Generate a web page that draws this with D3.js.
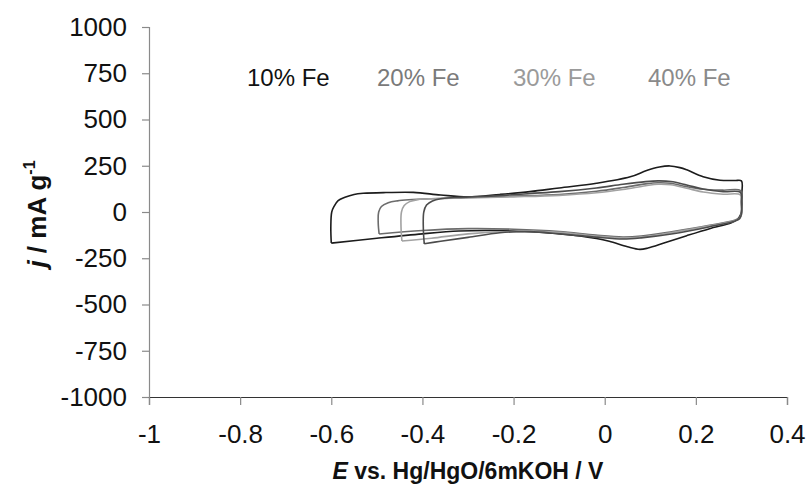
<!DOCTYPE html>
<html>
<head>
<meta charset="utf-8">
<script src="https://cdn.jsdelivr.net/npm/d3@7"></script>
<style>
  body { margin: 0; background: #fff; }
  text { font-family: "Liberation Sans", Arial, sans-serif; }
</style>
</head>
<body>
<svg id="cv"></svg>
<script>
var margin = {top: 27, right: 21, bottom: 99, left: 149}
  , width = 808 - margin.left - margin.right
  , height = 496 - margin.top - margin.bottom;

// tick values
var xTicks = [-1, -0.8, -0.6, -0.4, -0.2, 0, 0.2, 0.4];
var yTicks = [-1000, -750, -500, -250, 0, 250, 500, 750, 1000];

// series names and colours
var seriesNames = ["10% Fe", "20% Fe", "30% Fe", "40% Fe"];
var lineColors = ["#1c1c1c", "#6c6c6c", "#a2a2a2", "#4c4c4c"];
var labelColors = ["#111111", "#7a7a7a", "#9a9a9a", "#8a8a8a"];

// cyclic voltammograms, [E / V, j / mA g-1], traced round the loop
var fe10 = [[-0.600,-168],[-0.601,-80],[-0.599,0],[-0.594,30],[-0.585,62],[-0.570,80],[-0.550,95],[-0.530,101],
  [-0.480,105],[-0.420,106],[-0.360,92],[-0.300,82],[-0.230,95],[-0.164,110],[-0.100,130],[-0.018,155],
  [0.056,190],[0.092,224],[0.120,243],[0.143,249],[0.165,240],[0.180,228],[0.216,191],[0.253,172],
  [0.285,170],[0.300,168],[0.301,100],[0.301,20],[0.299,-10],[0.292,-38],[0.278,-58],[0.230,-90],
  [0.180,-128],[0.130,-168],[0.095,-195],[0.077,-202],[0.050,-188],[0.010,-158],[-0.018,-143],
  [-0.090,-120],[-0.164,-107],[-0.250,-100],[-0.320,-103],[-0.400,-118],[-0.500,-142],[-0.600,-168]];

var fe20 = [[-0.495,-119],[-0.497,-60],[-0.496,0],[-0.490,30],[-0.475,50],[-0.455,60],[-0.430,66],
  [-0.380,72],[-0.300,78],[-0.200,86],[-0.100,95],[-0.018,112],[0.040,132],[0.090,152],[0.117,158],
  [0.145,155],[0.180,137],[0.216,123],[0.260,118],[0.298,116],[0.300,60],[0.300,-5],[0.296,-30],
  [0.285,-45],[0.230,-72],[0.150,-105],[0.080,-130],[0.040,-135],[-0.020,-125],[-0.100,-105],
  [-0.200,-93],[-0.300,-90],[-0.400,-100],[-0.495,-119]];

var fe30 = [[-0.445,-157],[-0.447,-80],[-0.446,0],[-0.440,35],[-0.428,56],[-0.410,67],[-0.380,72],
  [-0.300,76],[-0.200,82],[-0.100,90],[-0.018,104],[0.040,122],[0.090,142],[0.117,150],[0.145,147],
  [0.180,128],[0.216,108],[0.260,96],[0.298,92],[0.300,40],[0.300,-15],[0.296,-35],[0.285,-48],
  [0.230,-75],[0.150,-110],[0.080,-136],[0.040,-141],[-0.020,-130],[-0.100,-110],[-0.200,-105],
  [-0.300,-118],[-0.380,-142],[-0.445,-157]];

var fe40 = [[-0.396,-172],[-0.398,-90],[-0.397,0],[-0.391,38],[-0.378,60],[-0.360,72],[-0.330,78],
  [-0.250,86],[-0.164,100],[-0.100,110],[-0.018,130],[0.040,150],[0.090,164],[0.117,168],[0.145,165],
  [0.180,146],[0.216,124],[0.260,110],[0.298,106],[0.300,50],[0.300,-12],[0.296,-36],[0.285,-50],
  [0.230,-80],[0.150,-118],[0.080,-140],[0.040,-146],[-0.020,-136],[-0.100,-118],[-0.164,-106],
  [-0.230,-112],[-0.300,-137],[-0.360,-158],[-0.396,-172]];

var curves = [fe10, fe20, fe30, fe40];

var svg = d3.select("#cv")
    .attr("width", width + margin.left + margin.right)
    .attr("height", height + margin.top + margin.bottom)
  .append("g")
    .attr("transform", "translate(" + margin.left + "," + margin.top + ")");

var xScale = d3.scaleLinear().domain([-1, 0.4]).range([0, width]);
var yScale = d3.scaleLinear().domain([-1000, 1000]).range([height, 0]);

var yAxis = svg.append("g")
    .attr("class", "y axis")
    .call(d3.axisLeft(yScale).tickValues(yTicks).tickSize(7).tickPadding(15)
      .tickFormat(function(d){ return String(d); }));
yAxis.select(".domain").attr("stroke", "#8a8a8a").attr("stroke-width", 1.2);
yAxis.selectAll(".tick line").attr("stroke", "#8a8a8a").attr("stroke-width", 1.2);
yAxis.selectAll("text").attr("font-size", 26).attr("fill", "#111");

var xAxis = svg.append("g")
    .attr("class", "x axis")
    .attr("transform", "translate(0," + height + ")")
    .call(d3.axisBottom(xScale).tickValues(xTicks).tickSize(8).tickPadding(20)
      .tickFormat(function(d){ return String(+d.toFixed(1)); }));
xAxis.select(".domain").attr("stroke", "#333").attr("stroke-width", 1.2);
xAxis.selectAll(".tick line").attr("stroke", "#8a8a8a").attr("stroke-width", 1.2);
xAxis.selectAll("text").attr("font-size", 26).attr("fill", "#111");

var line = d3.line()
    .x(function(d){ return xScale(d[0]); })
    .y(function(d){ return yScale(d[1]); })
    .curve(d3.curveCatmullRom.alpha(0.5));

svg.selectAll("path.cv")
    .data(curves)
    .enter().append("path")
    .attr("class", "cv")
    .attr("fill", "none")
    .attr("stroke", function(d, i){ return lineColors[i]; })
    .attr("stroke-width", 1.6)
    .attr("d", line);

// legend labels
var legendX = [98, 228, 364, 499];
svg.selectAll("text.legend")
    .data(seriesNames)
    .enter().append("text")
    .attr("class", "legend")
    .attr("x", function(d, i){ return legendX[i]; })
    .attr("y", 59)
    .attr("font-size", 24)
    .attr("fill", function(d, i){ return labelColors[i]; })
    .text(function(d){ return d; });

// y title
var yt = svg.append("text")
    .attr("transform", "translate(-103," + (height / 2 + 2) + ") rotate(-90)")
    .attr("text-anchor", "middle")
    .attr("font-size", 26)
    .attr("font-weight", "bold")
    .attr("fill", "#111");
yt.append("tspan").attr("font-style", "italic").text("j");
yt.append("tspan").text(" / mA g");
yt.append("tspan").attr("font-size", 16).attr("dy", -11).text("-1");

// x title
var xt = svg.append("text")
    .attr("x", xScale(-0.3))
    .attr("y", height + 82)
    .attr("text-anchor", "middle")
    .attr("font-size", 23)
    .attr("font-weight", "bold")
    .attr("fill", "#111");
xt.append("tspan").attr("font-style", "italic").text("E");
xt.append("tspan").text(" vs. Hg/HgO/6mKOH / V");
</script>
</body>
</html>
